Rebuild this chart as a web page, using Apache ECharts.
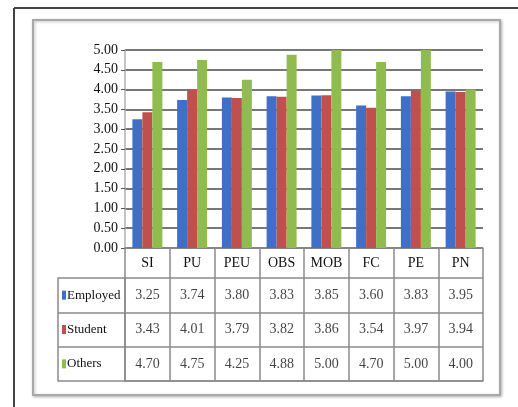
<!DOCTYPE html>
<html><head><meta charset="utf-8">
<script src="https://cdn.jsdelivr.net/npm/echarts@6/dist/echarts.min.js"></script>
<style>html,body{margin:0;padding:0;background:#fff}#c{width:518px;height:407px}</style>
</head><body><div id="c"></div>
<script>
const categories = ['SI','PU','PEU','OBS','MOB','FC','PE','PN'];
const seriesNames = ['Employed','Student','Others'];
const employed = [3.25,3.74,3.80,3.83,3.85,3.60,3.83,3.95];
const student  = [3.43,4.01,3.79,3.82,3.86,3.54,3.97,3.94];
const others   = [4.70,4.75,4.25,4.88,5.00,4.70,5.00,4.00];
const yMin = 0, yMax = 5, yStep = 0.5;

const colors = ['#3f6fc6','#c0504d','#8fbb4f'];
const rows = [employed, student, others];
const FONT = 'Liberation Serif';
const lineCol = '#8a8a8a';
const txtCol = '#111';

const tableData = [];
rows.forEach((arr, r) => arr.forEach((v, c) => tableData.push([c, r, v])));

const rich = { t: { fontFamily: FONT, fontSize: 13, color: txtCol, padding: [0, 0, 0, 1] } };
colors.forEach((col, i) => { rich['m' + i] = { backgroundColor: col, width: 4, height: 7, fontSize: 1, padding: [0, 0, 2, 0] }; });

const chart = echarts.init(document.getElementById('c'));
chart.setOption({
  animation: false,
  backgroundColor: '#fff',
  graphic: [
    { type: 'rect', z: -10, shape: { x: 33, y: 20, width: 467, height: 375 },
      style: { fill: '#fff', stroke: '#a8a8a8', lineWidth: 2, shadowColor: 'rgba(0,0,0,0.25)', shadowBlur: 3, shadowOffsetX: 1, shadowOffsetY: 1 } },
    { type: 'line', z: -5, shape: { x1: 14, y1: 8, x2: 518, y2: 8 }, style: { stroke: '#444', lineWidth: 2 } },
    { type: 'line', z: -5, shape: { x1: 14, y1: 8, x2: 14, y2: 407 }, style: { stroke: '#444', lineWidth: 2 } }
  ],
  grid: [
    { left: 125, top: 50, width: 358, height: 198 },
    { left: 125, top: 278, width: 358, height: 103 }
  ],
  xAxis: [
    { type: 'category', gridIndex: 0, data: categories,
      axisLine: { show: true, lineStyle: { color: lineCol, width: 1.5 } },
      axisTick: { show: true, length: 30, inside: false, lineStyle: { color: lineCol, width: 1.5 } },
      axisLabel: { margin: 15, verticalAlign: 'middle', fontFamily: FONT, fontSize: 14, color: txtCol, interval: 0 },
      splitLine: { show: false } },
    { type: 'category', gridIndex: 1, data: categories,
      axisLine: { show: true, lineStyle: { color: lineCol, width: 1.5 } },
      axisTick: { show: false }, axisLabel: { show: false },
      splitLine: { show: true, interval: 0, lineStyle: { color: lineCol, width: 1.5 } } }
  ],
  yAxis: [
    { type: 'value', gridIndex: 0, min: yMin, max: yMax, interval: yStep,
      axisLine: { show: true, lineStyle: { color: '#b0b0b0', width: 1.5 } },
      axisTick: { show: true, length: 4, lineStyle: { color: '#555' } },
      axisLabel: { formatter: v => v.toFixed(2), fontFamily: FONT, fontSize: 14, color: txtCol, margin: 7 },
      splitLine: { show: true, lineStyle: { color: '#4a4a4a', width: 1.5 } } },
    { type: 'category', gridIndex: 1, data: seriesNames, inverse: true,
      axisLine: { show: true, lineStyle: { color: lineCol, width: 1.5 } },
      axisTick: { show: true, length: 67, interval: 0, lineStyle: { color: lineCol, width: 1.5 } },
      axisLabel: { align: 'left', margin: 63, interval: 0,
        formatter: (v, i) => '{m' + i + '| }{t|' + v + '}', rich: rich },
      splitLine: { show: true, interval: 0, lineStyle: { color: lineCol, width: 1.5 } } },
    { type: 'category', gridIndex: 1, data: seriesNames, inverse: true, position: 'left', offset: 67,
      axisLine: { show: true, lineStyle: { color: lineCol, width: 1.5 } },
      axisTick: { show: false }, axisLabel: { show: false }, splitLine: { show: false } }
  ],
  series: [
    ...seriesNames.map((name, i) => ({
      type: 'bar', name: name, xAxisIndex: 0, yAxisIndex: 0, data: rows[i],
      barGap: '0%', barCategoryGap: '33%', itemStyle: { color: colors[i] }, silent: true
    })),
    { type: 'scatter', xAxisIndex: 1, yAxisIndex: 1, data: tableData, symbolSize: 1,
      itemStyle: { color: 'rgba(0,0,0,0)' }, silent: true,
      label: { show: true, position: 'inside', formatter: p => p.value[2].toFixed(2),
        fontFamily: FONT, fontSize: 14, color: txtCol } }
  ]
});
</script></body></html>
